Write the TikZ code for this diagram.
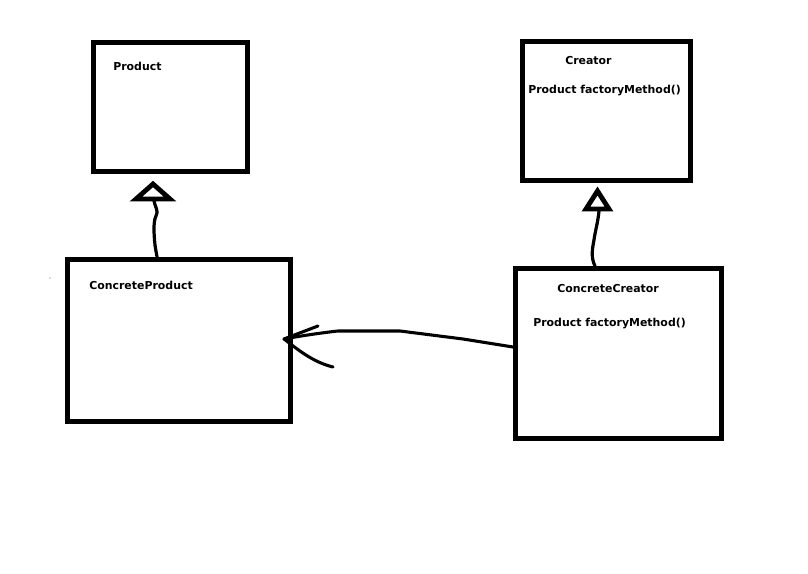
\documentclass[tikz,border=0pt]{standalone}
\usepackage{fontspec}
\setmainfont{DejaVu Sans}
\usetikzlibrary{fit}
\begin{document}
\begin{tikzpicture}[x=0.75pt,y=-0.75pt,
  classbox/.style={draw=black,line width=3.75pt,fill=none,inner sep=0pt},
  label/.style={font=\fontsize{8.2}{10}\selectfont\bfseries,inner sep=0pt,anchor=base west},
  link/.style={draw=black,line width=2.4pt,line cap=round,line join=round},
  headtri/.style={draw=black,line width=3.6pt,line join=miter,fill=white}]
\useasboundingbox (0,0) rectangle (808,574);
\fill[white] (0,0) rectangle (808,574);

% class boxes
\node[classbox,fit={(93.5,43) (247.5,172)}] (prod) {};
\node[classbox,fit={(522,42) (690,181)}] (creator) {};
\node[classbox,fit={(67.5,259.5) (290.5,422)}] (cprod) {};
\node[classbox,fit={(515.5,268.5) (721,438)}] (ccreator) {};

% class texts
\node[label] (prodname) at (113,70.5) {Product};
\node[label] (creatorname) at (565,65) {Creator};
\node[label] (creatorop) at (528,94) {Product factoryMethod()};
\node[label] (cprodname) at (89,290) {ConcreteProduct};
\node[label] (ccreatorname) at (557,293) {ConcreteCreator};
\node[label] (ccreatorop) at (533,326.5) {Product factoryMethod()};

% inheritance heads
\draw[headtri] (136,199) -- (153,184) -- (170,199) -- cycle;
\coordinate (tri1) at (154,201);
\draw[headtri] (586,209) -- (597.5,191) -- (609,209) -- cycle;
\coordinate (tri2) at (599,211);

% generalisation lines
\draw[link] (tri1) .. controls (155,207) and (159,211) .. (156,216)
  .. controls (153,222) and (154,235) .. (155,245)
  .. controls (156,252) and (157,256) .. (cprod.north -| 157,0);
\draw[link] (tri2) .. controls (598,222) and (595,232) .. (594,240)
  .. controls (592,250) and (591,258) .. (ccreator.north -| 595,0);

% dependency arrow with hand-drawn open head
\coordinate (tip) at (284,339);
\draw[link,line width=2.3pt] (ccreator.west |- 0,347) -- (463,339) -- (400,331) -- (338,331)
  .. controls (320,333) and (300,336) .. (tip);
\draw[link,line width=2.3pt] (tip) -- (318,326);
\draw[link,line width=2.3pt] (tip) .. controls (296,348) and (312,362) .. (333,367);

% stray dot
\fill[black!60] (50,278) circle (0.6);
\end{tikzpicture}
\end{document}
